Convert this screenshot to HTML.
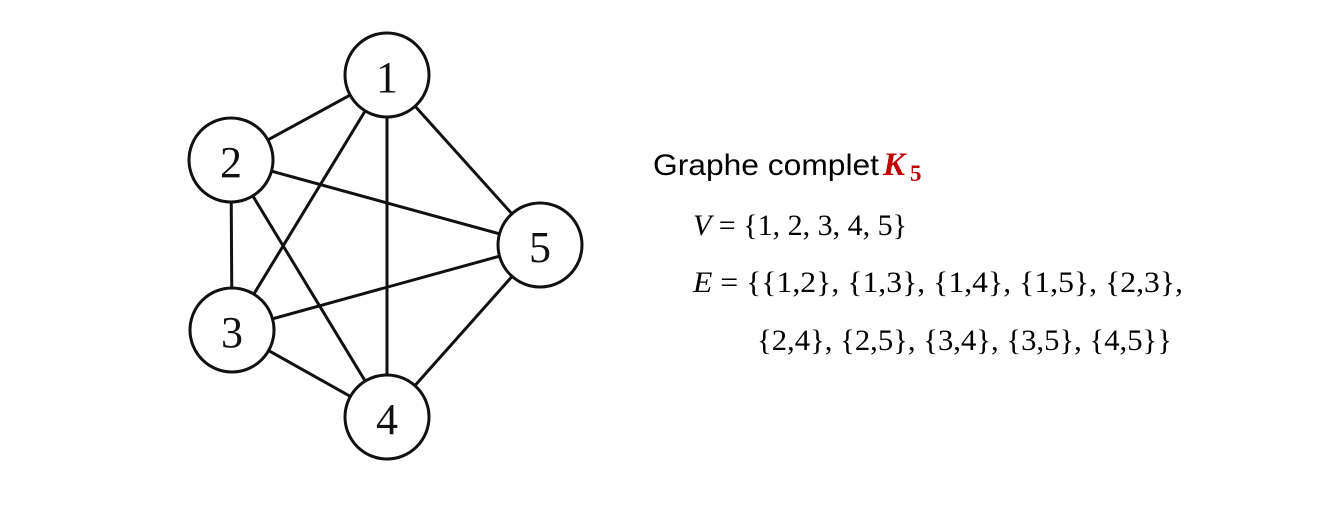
<!DOCTYPE html>
<html><head><meta charset="utf-8"><style>
html,body{margin:0;padding:0;background:#fff;width:1329px;height:510px;overflow:hidden}
</style></head><body>
<svg width="1329" height="510" xmlns="http://www.w3.org/2000/svg">
<g stroke="#111" stroke-width="3" fill="none">
<line x1="387" y1="75" x2="231" y2="160"/>
<line x1="387" y1="75" x2="232" y2="330"/>
<line x1="387" y1="75" x2="387" y2="417"/>
<line x1="387" y1="75" x2="540" y2="245"/>
<line x1="231" y1="160" x2="232" y2="330"/>
<line x1="231" y1="160" x2="387" y2="417"/>
<line x1="231" y1="160" x2="540" y2="245"/>
<line x1="232" y1="330" x2="387" y2="417"/>
<line x1="232" y1="330" x2="540" y2="245"/>
<line x1="387" y1="417" x2="540" y2="245"/>
</g>
<g stroke="#111" stroke-width="3" fill="#fff">
<circle cx="387" cy="75" r="42"/>
<circle cx="231" cy="160" r="42"/>
<circle cx="232" cy="330" r="42"/>
<circle cx="387" cy="417" r="42"/>
<circle cx="540" cy="245" r="42"/>
</g>
<g font-family="Liberation Serif, serif" font-size="44" fill="#111" text-anchor="middle">
<text x="387" y="92">1</text>
<text x="231" y="177">2</text>
<text x="232" y="347">3</text>
<text x="387" y="434">4</text>
<text x="540" y="262">5</text>
</g>
<text x="653" y="175" font-family="Liberation Sans, sans-serif" font-size="30" fill="#000" textLength="226" lengthAdjust="spacingAndGlyphs">Graphe complet</text>
<text x="883" y="175" font-family="Liberation Serif, serif" font-weight="bold" font-style="italic" fill="#c00000" font-size="33">K</text>
<text x="910" y="181" font-family="Liberation Serif, serif" font-weight="bold" fill="#c00000" font-size="23">5</text>
<g font-family="Liberation Serif, serif" font-size="30" fill="#000">
<text x="693" y="235" textLength="214" lengthAdjust="spacingAndGlyphs"><tspan font-style="italic">V</tspan> = {1, 2, 3, 4, 5}</text>
<text x="693" y="292" textLength="490" lengthAdjust="spacingAndGlyphs"><tspan font-style="italic">E</tspan> = {{1,2}, {1,3}, {1,4}, {1,5}, {2,3},</text>
<text x="757" y="350" textLength="415" lengthAdjust="spacingAndGlyphs">{2,4}, {2,5}, {3,4}, {3,5}, {4,5}}</text>
</g>
</svg>
</body></html>
